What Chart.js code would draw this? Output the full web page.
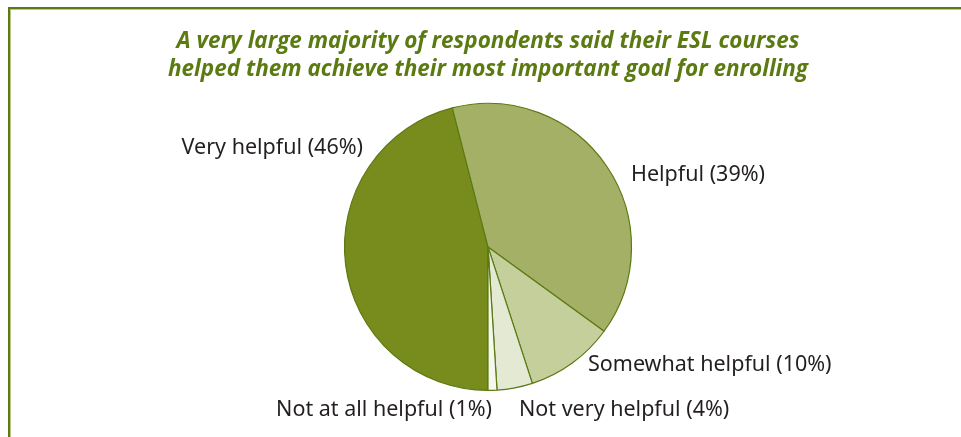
<!DOCTYPE html>
<html lang="en">
<head>
<meta charset="UTF-8" />
<title>ESL courses and enrollment goals</title>
<style>
  body { margin: 0; padding: 0; background: #fff; }
  #wrap { position: relative; width: 961px; height: 437px; overflow: hidden; }
  /* olive frame around the figure (open on the right and bottom) */
  #frame {
    position: absolute; left: 8px; top: 7px; width: 1000px; height: 500px;
    border-left: 2px solid #5b7a12; border-top: 2px solid #5b7a12;
    box-shadow: inset 1px 1px 0 #b9c78d;
  }
  #goalChart { position: absolute; left: 0; top: 0; }
</style>
</head>
<body>
<div id="wrap">
  <div id="frame"></div>
  <canvas id="goalChart" width="961" height="437"></canvas>
</div>

<script src="https://cdn.jsdelivr.net/npm/chart.js"></script>
<script>
  // データ
  const categories = ['Very helpful', 'Helpful', 'Somewhat helpful', 'Not very helpful', 'Not at all helpful'];
  const shares = [46, 39, 10, 4, 1];
  const sliceColors = ['#778c1c', '#a3b065', '#c5cf9b', '#e3e9d3', '#f6f8f0'];

  // ラベル位置（円の中心からのずれ）と揃え
  const labelOffsets = [
    { dx: -125, dy: -99, align: 'right' },
    { dx: 143, dy: -72, align: 'left' },
    { dx: 100, dy: 118, align: 'left' },
    { dx: 31, dy: 163, align: 'left' },
    { dx: 4, dy: 163, align: 'right' }
  ];

  // 各スライスの外にラベルを描く
  const sliceLabels = {
    id: 'sliceLabels',
    afterDraw(chart) {
      const ctx = chart.ctx;
      const arc = chart.getDatasetMeta(0).data[0];
      ctx.save();
      ctx.font = '21.5px "Noto Sans", sans-serif';
      ctx.fillStyle = '#231f20';
      ctx.textBaseline = 'middle';
      categories.forEach((name, i) => {
        const o = labelOffsets[i];
        ctx.textAlign = o.align;
        ctx.fillText(name + ' (' + shares[i] + '%)', arc.x + o.dx, arc.y + o.dy);
      });
      ctx.restore();
    }
  };

  new Chart(document.getElementById('goalChart'), {
    type: 'pie',
    data: {
      labels: categories,
      datasets: [{
        data: shares,
        backgroundColor: sliceColors,
        borderColor: '#5b7a12',
        borderWidth: 1.2
      }]
    },
    options: {
      responsive: false,
      animation: false,
      rotation: 180,
      // 左右の余白は円の中心を少し右へずらすためだけ
      layout: { padding: { top: 0, bottom: 46, left: 15, right: 0 } },
      plugins: {
        legend: { display: false },
        tooltip: { enabled: false },
        title: {
          display: true,
          text: ['A very large majority of respondents said their ESL courses',
                 'helped them achieve their most important goal for enrolling'],
          color: '#5b7a12',
          font: { family: '"Open Sans", sans-serif', size: 22.5, weight: 'bold', style: 'italic', lineHeight: 1.24 },
          padding: { top: 28, bottom: 19 }
        }
      }
    },
    plugins: [sliceLabels]
  });
</script>
</body>
</html>
